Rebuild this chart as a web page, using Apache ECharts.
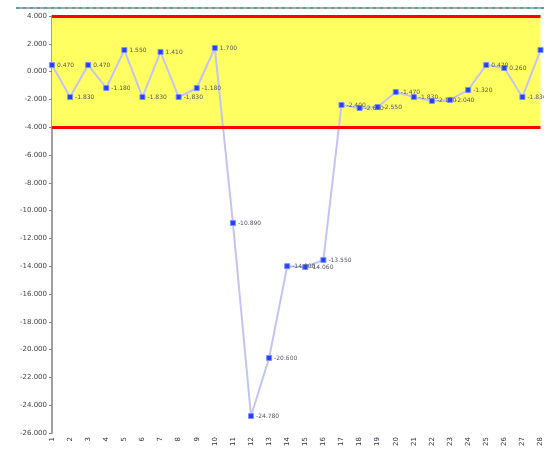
<!DOCTYPE html>
<html>
<head>
<meta charset="utf-8">
<script src="https://cdn.jsdelivr.net/npm/echarts@6/dist/echarts.min.js"></script>
<style>
html,body{margin:0;padding:0;background:#fff;}
#c{width:544px;height:449px;}
</style>
</head>
<body>
<div id="c"></div>
<script>
// Categories (sample index)
var categories = ["1","2","3","4","5","6","7","8","9","10","11","12","13","14","15","16","17","18","19","20","21","22","23","24","25","26","27","28"];
// Measured values
var values = [0.47,-1.83,0.47,-1.18,1.55,-1.83,1.41,-1.83,-1.18,1.70,-10.89,-24.78,-20.60,-14.00,-14.06,-13.55,-2.40,-2.62,-2.55,-1.47,-1.83,-2.11,-2.04,-1.32,0.47,0.26,-1.83,1.55];
// Control limits
var upperLimit = 4;
var lowerLimit = -4;
// Y axis range
var yMin = -26, yMax = 4, yStep = 2;

var chart = echarts.init(document.getElementById('c'));
chart.setOption({
  animation: false,
  backgroundColor: '#ffffff',
  grid: {left: 52, right: 1, top: 16, bottom: 16, containLabel: false},
  xAxis: {
    type: 'category',
    data: categories,
    boundaryGap: false,
    axisLine: {show: false},
    axisTick: {show: false},
    splitLine: {show: false},
    axisLabel: {rotate: 90, fontSize: 7, color: '#334', margin: 4, interval: 0, fontFamily: 'DejaVu Sans'}
  },
  yAxis: {
    type: 'value',
    min: yMin, max: yMax, interval: yStep,
    axisLine: {show: true, lineStyle: {color: '#a0a0a0', width: 2}},
    axisTick: {show: true, length: 3, lineStyle: {color: '#5a9a9a', width: 1}},
    splitLine: {show: false},
    axisLabel: {fontSize: 7, color: '#444', margin: 5, fontFamily: 'DejaVu Sans',
      formatter: function (v) { return v.toFixed(3); }}
  },
  graphic: [
    {type: 'line', shape: {x1: 16, y1: 8, x2: 544, y2: 8}, style: {stroke: '#a8a8a8', lineWidth: 2}, silent: true},
    {type: 'line', shape: {x1: 16, y1: 8, x2: 544, y2: 8}, style: {stroke: '#5aa0a0', lineWidth: 2, lineDash: [3, 4]}, silent: true}
  ],
  series: [{
    type: 'line',
    data: values,
    symbol: 'rect',
    symbolSize: 5,
    itemStyle: {color: '#2040ff', borderColor: '#8090ff', borderWidth: 1},
    lineStyle: {color: '#c4c4f4', width: 2},
    label: {show: true, position: 'right', fontSize: 6, color: '#556', distance: 2,
      fontFamily: 'DejaVu Sans',
      formatter: function (p) { return p.value.toFixed(3); }},
    markArea: {
      silent: true,
      itemStyle: {color: '#ffff62'},
      data: [[{yAxis: lowerLimit}, {yAxis: upperLimit}]]
    },
    markLine: {
      silent: true,
      symbol: 'none',
      label: {show: false},
      lineStyle: {color: '#ff0000', width: 3, type: 'solid'},
      data: [{yAxis: upperLimit}, {yAxis: lowerLimit}]
    }
  }]
});
</script>
</body>
</html>
